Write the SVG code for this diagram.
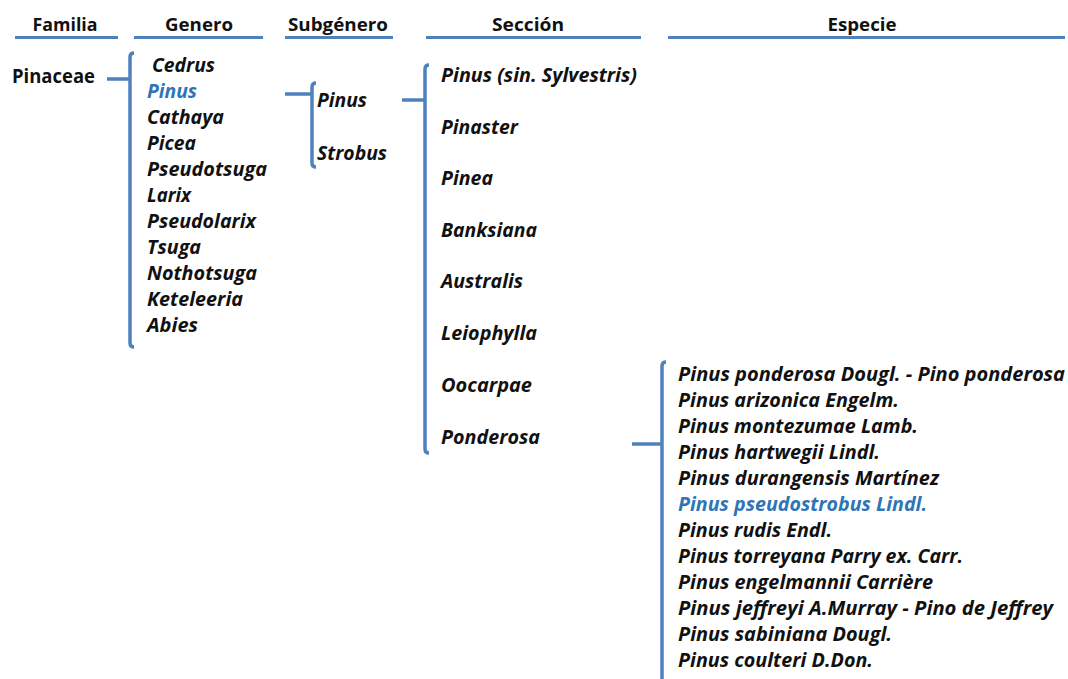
<svg xmlns="http://www.w3.org/2000/svg" width="1068" height="679" viewBox="0 0 1068 679">
  <style>
    .hdr { font-family: "Open Sans", "Liberation Sans", sans-serif; font-weight: bold; font-size: 18px; fill: #111; text-anchor: middle; }
    .root { font-family: "Open Sans", "Liberation Sans", sans-serif; font-weight: bold; font-size: 19px; fill: #111; }
    .t { font-family: "Open Sans", "Liberation Sans", sans-serif; font-weight: bold; font-style: italic; font-size: 19px; fill: #111; }
    .hl { fill: #2E75B6; }
    .rule { stroke: #4F81BD; stroke-width: 3; fill: none; }
    .br { stroke: #4F81BD; stroke-width: 3.5; fill: none; stroke-linecap: butt; }
  </style>

  <rect width="1068" height="679" fill="#ffffff"/>

  <!-- column headers -->
  <g id="headers">
    <text class="hdr" x="65" y="31" textLength="65" lengthAdjust="spacingAndGlyphs">Familia</text>
    <text class="hdr" x="199" y="31" textLength="68" lengthAdjust="spacingAndGlyphs">Genero</text>
    <text class="hdr" x="338" y="31" textLength="100" lengthAdjust="spacingAndGlyphs">Subgénero</text>
    <text class="hdr" x="528" y="31" textLength="72" lengthAdjust="spacingAndGlyphs">Sección</text>
    <text class="hdr" x="862" y="31" textLength="69" lengthAdjust="spacingAndGlyphs">Especie</text>
    <line class="rule" x1="15" y1="37.5" x2="118" y2="37.5"/>
    <line class="rule" x1="134" y1="37.5" x2="263" y2="37.5"/>
    <line class="rule" x1="285" y1="37.5" x2="393" y2="37.5"/>
    <line class="rule" x1="426" y1="37.5" x2="641" y2="37.5"/>
    <line class="rule" x1="668" y1="37.5" x2="1065" y2="37.5"/>
  </g>

  <!-- bracket connectors -->
  <g id="connectors">
    <path class="br" d="M107,79 H130"/>
    <path class="br" d="M134,53 Q130,53 130,57 V343 Q130,347 134,347"/>
    <path class="br" d="M285,94 H312"/>
    <path class="br" d="M316,83 Q312,83 312,87 V163 Q312,167 316,167"/>
    <path class="br" d="M402,100 H425"/>
    <path class="br" d="M429,65 Q425,65 425,69 V449 Q425,453 429,453"/>
    <path class="br" d="M632,444 H662"/>
    <path class="br" d="M666,362 Q662,362 662,366 V682"/>
  </g>

  <!-- familia -->
  <g id="familia">
    <text class="root" x="12" y="83" textLength="83" lengthAdjust="spacingAndGlyphs">Pinaceae</text>
  </g>

  <!-- géneros -->
  <g id="genero-cedrus"><text class="t" x="152" y="72" textLength="63" lengthAdjust="spacingAndGlyphs">Cedrus</text></g>
  <g id="genero-pinus"><text class="t hl" x="147" y="98" textLength="50" lengthAdjust="spacingAndGlyphs">Pinus</text></g>
  <g id="genero-cathaya"><text class="t" x="147" y="124" textLength="77" lengthAdjust="spacingAndGlyphs">Cathaya</text></g>
  <g id="genero-picea"><text class="t" x="147" y="150" textLength="49" lengthAdjust="spacingAndGlyphs">Picea</text></g>
  <g id="genero-pseudotsuga"><text class="t" x="147" y="176" textLength="120" lengthAdjust="spacingAndGlyphs">Pseudotsuga</text></g>
  <g id="genero-larix"><text class="t" x="147" y="202" textLength="44" lengthAdjust="spacingAndGlyphs">Larix</text></g>
  <g id="genero-pseudolarix"><text class="t" x="147" y="228" textLength="109" lengthAdjust="spacingAndGlyphs">Pseudolarix</text></g>
  <g id="genero-tsuga"><text class="t" x="147" y="254" textLength="54" lengthAdjust="spacingAndGlyphs">Tsuga</text></g>
  <g id="genero-nothotsuga"><text class="t" x="147" y="280" textLength="110" lengthAdjust="spacingAndGlyphs">Nothotsuga</text></g>
  <g id="genero-keteleeria"><text class="t" x="147" y="306" textLength="96" lengthAdjust="spacingAndGlyphs">Keteleeria</text></g>
  <g id="genero-abies"><text class="t" x="147" y="332" textLength="51" lengthAdjust="spacingAndGlyphs">Abies</text></g>

  <!-- subgéneros -->
  <g id="subgenero-pinus"><text class="t" x="317" y="107" textLength="50" lengthAdjust="spacingAndGlyphs">Pinus</text></g>
  <g id="subgenero-strobus"><text class="t" x="317" y="160" textLength="70" lengthAdjust="spacingAndGlyphs">Strobus</text></g>

  <!-- secciones -->
  <g id="seccion-pinus"><text class="t" x="441" y="82" textLength="196" lengthAdjust="spacingAndGlyphs">Pinus (sin. Sylvestris)</text></g>
  <g id="seccion-pinaster"><text class="t" x="441" y="134" textLength="77" lengthAdjust="spacingAndGlyphs">Pinaster</text></g>
  <g id="seccion-pinea"><text class="t" x="441" y="185" textLength="52" lengthAdjust="spacingAndGlyphs">Pinea</text></g>
  <g id="seccion-banksiana"><text class="t" x="441" y="237" textLength="96" lengthAdjust="spacingAndGlyphs">Banksiana</text></g>
  <g id="seccion-australis"><text class="t" x="441" y="288" textLength="82" lengthAdjust="spacingAndGlyphs">Australis</text></g>
  <g id="seccion-leiophylla"><text class="t" x="441" y="340" textLength="96" lengthAdjust="spacingAndGlyphs">Leiophylla</text></g>
  <g id="seccion-oocarpae"><text class="t" x="441" y="392" textLength="91" lengthAdjust="spacingAndGlyphs">Oocarpae</text></g>
  <g id="seccion-ponderosa"><text class="t" x="441" y="444" textLength="99" lengthAdjust="spacingAndGlyphs">Ponderosa</text></g>

  <!-- especies de la sección Ponderosa -->
  <g id="especie-ponderosa"><text class="t" x="678" y="381" textLength="387" lengthAdjust="spacingAndGlyphs">Pinus ponderosa Dougl. - Pino ponderosa</text></g>
  <g id="especie-arizonica"><text class="t" x="678" y="407" textLength="221" lengthAdjust="spacingAndGlyphs">Pinus arizonica Engelm.</text></g>
  <g id="especie-montezumae"><text class="t" x="678" y="433" textLength="240" lengthAdjust="spacingAndGlyphs">Pinus montezumae Lamb.</text></g>
  <g id="especie-hartwegii"><text class="t" x="678" y="459" textLength="202" lengthAdjust="spacingAndGlyphs">Pinus hartwegii Lindl.</text></g>
  <g id="especie-durangensis"><text class="t" x="678" y="485" textLength="261" lengthAdjust="spacingAndGlyphs">Pinus durangensis Martínez</text></g>
  <g id="especie-pseudostrobus"><text class="t hl" x="678" y="511" textLength="249" lengthAdjust="spacingAndGlyphs">Pinus pseudostrobus Lindl.</text></g>
  <g id="especie-rudis"><text class="t" x="678" y="537" textLength="154" lengthAdjust="spacingAndGlyphs">Pinus rudis Endl.</text></g>
  <g id="especie-torreyana"><text class="t" x="678" y="563" textLength="285" lengthAdjust="spacingAndGlyphs">Pinus torreyana Parry ex. Carr.</text></g>
  <g id="especie-engelmannii"><text class="t" x="678" y="589" textLength="255" lengthAdjust="spacingAndGlyphs">Pinus engelmannii Carrière</text></g>
  <g id="especie-jeffreyi"><text class="t" x="678" y="615" textLength="375" lengthAdjust="spacingAndGlyphs">Pinus jeffreyi A.Murray - Pino de Jeffrey</text></g>
  <g id="especie-sabiniana"><text class="t" x="678" y="641" textLength="214" lengthAdjust="spacingAndGlyphs">Pinus sabiniana Dougl.</text></g>
  <g id="especie-coulteri"><text class="t" x="678" y="667" textLength="195" lengthAdjust="spacingAndGlyphs">Pinus coulteri D.Don.</text></g>
</svg>
